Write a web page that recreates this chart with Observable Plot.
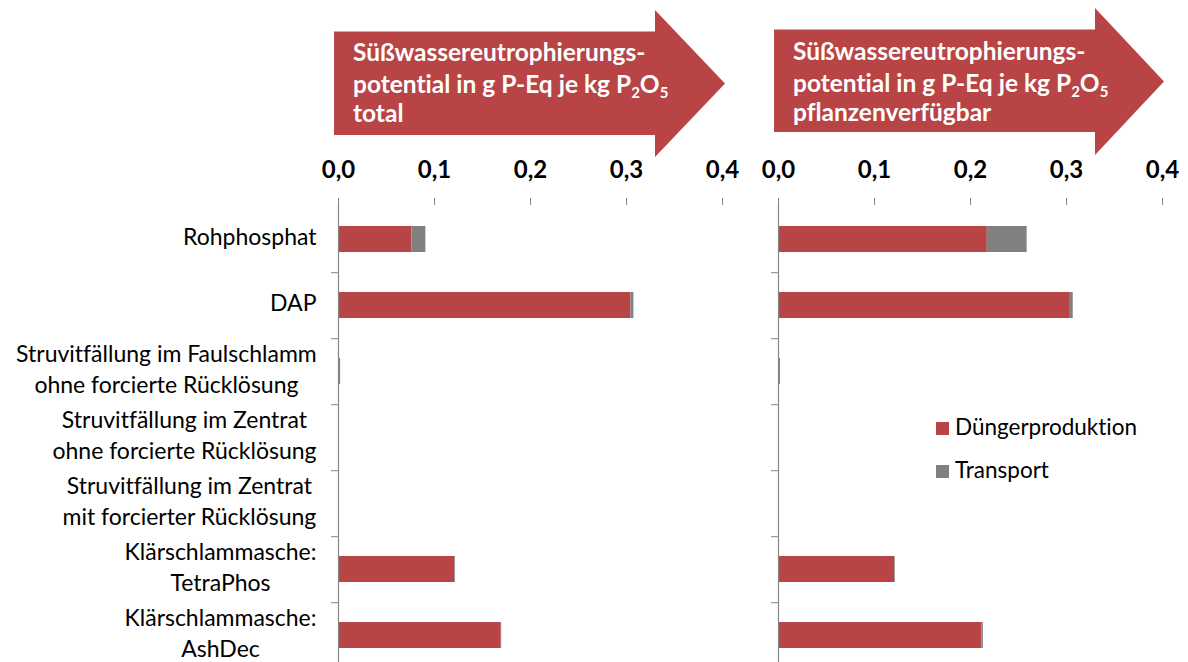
<!DOCTYPE html>
<html><head><meta charset="utf-8">
<script src="https://cdn.jsdelivr.net/npm/d3@7"></script>
<script src="https://cdn.jsdelivr.net/npm/@observablehq/plot@0.6"></script>
<style>
html,body{margin:0;padding:0;background:#fff;}
#wrap{position:relative;width:1188px;height:662px;overflow:hidden;font-family:Lato,sans-serif;}
#wrap svg.overlay{position:absolute;left:0;top:0;pointer-events:none;}
#wrap text, #wrap .lg{font-variant-ligatures:none;}
.lg{position:absolute;font-family:Lato,sans-serif;font-size:22.5px;color:#000;line-height:1;white-space:nowrap;}
.sw{position:absolute;width:13px;height:13px;}
</style></head><body><div id="wrap"></div>
<script>
const categories = [
  "Rohphosphat",
  "DAP",
  "Struvitfällung im Faulschlamm\nohne forcierte Rücklösung",
  "Struvitfällung im Zentrat\nohne forcierte Rücklösung",
  "Struvitfällung im Zentrat\nmit forcierter Rücklösung",
  "Klärschlammasche:\nTetraPhos",
  "Klärschlammasche:\nAshDec"
];
const panels = ["total", "pflanzenverfügbar"];
const series = ["Düngerproduktion", "Transport"];
const duengerTotal   = [0.0765, 0.3046, 0, 0, 0, 0.1212, 0.1695];
const transportTotal = [0.0145, 0.0031, 0.0022, 0, 0, 0.0007, 0.0005];
const duengerPfl     = [0.2175, 0.3040, 0, 0, 0, 0.1210, 0.2120];
const transportPfl   = [0.0415, 0.0030, 0.0020, 0, 0, 0.0007, 0.0014];
const xTicks = [0, 0.1, 0.2, 0.3, 0.4];
const colors = ["#B94446", "#808080"];
const arrowTitle1 = "Süßwassereutrophierungs-";
const arrowTitle2 = "potential in g P-Eq je kg P";

const rows = [];
const valuesByPanel = {
  "total": [duengerTotal, transportTotal],
  "pflanzenverfügbar": [duengerPfl, transportPfl]
};
for (const p of panels) {
  categories.forEach((c, i) => {
    series.forEach((s, j) => {
      rows.push({panel: p, category: c, series: s, value: valuesByPanel[p][j][i]});
    });
  });
}

const W = 1188, H = 662;
const axisGrey = "#868686";
const step = (668.8 - 204) / categories.length;
const labelFont = 23;
const labelGap = 22;

// measure the widest line of each label to centre lines within a right-aligned block
const ctx = document.createElement("canvas").getContext("2d");
ctx.font = `${labelFont}px Lato`;
const blockWidth = c => Math.max(...c.split("\n").map(l => ctx.measureText(l).width));

const labelMarks = categories.map(c => Plot.text([c], {
  y: d => d, fx: () => panels[0], text: d => d, frameAnchor: "left",
  textAnchor: "middle", dx: -(labelGap + blockWidth(c) / 2), dy: -4,
  fontSize: labelFont, lineHeight: 1.33, fill: "#000"
}));

const plot = Plot.plot({
  width: W, height: H,
  marginTop: 204, marginBottom: 0, marginLeft: 338, marginRight: 26,
  style: {fontFamily: "Lato, sans-serif", fontSize: "20px", color: "#000", background: "transparent"},
  fx: {domain: panels, paddingInner: 56 / 440, paddingOuter: 0, axis: null, label: null},
  x: {domain: [0, 0.4]},
  y: {domain: categories, range: [204, 668.8], paddingInner: 0.61, paddingOuter: 0.305, axis: null},
  color: {domain: series, range: colors},
  marks: [
    Plot.barX(rows, {x: "value", y: "category", fill: "series", fx: "panel"}),
    Plot.ruleX([0], {stroke: axisGrey, strokeWidth: 1.2}),
    Plot.axisX({anchor: "top", ticks: xTicks, tickFormat: d => d.toFixed(1).replace(".", ","),
      tickSize: 7, tickPadding: 20, fontSize: 24, fontWeight: "bold", stroke: axisGrey,
      line: true, label: null}),
    Plot.axisY({anchor: "left", facetAnchor: null, tickSize: 7, tickFormat: () => "", dy: step / 2,
      stroke: axisGrey, label: null}),
    ...labelMarks
  ]
});
const wrap = document.getElementById("wrap");
wrap.appendChild(plot);

// arrows (header decoration)
const svg = d3.select(wrap).append("svg").attr("class", "overlay")
  .attr("width", W).attr("height", H);
const arrows = [
  {x0: 334, x1: 655, tip: 725, yTop: 31.5, yBot: 135, hTop: 10, hBot: 157, line3: "total", ty: 61},
  {x0: 774, x1: 1095, tip: 1164, yTop: 29.5, yBot: 132, hTop: 8, hBot: 155, line3: "pflanzenverfügbar", ty: 59.5}
];
for (const a of arrows) {
  const mid = (a.hTop + a.hBot) / 2;
  svg.append("path")
    .attr("d", `M${a.x0},${a.yTop}H${a.x1}V${a.hTop}L${a.tip},${mid}L${a.x1},${a.hBot}V${a.yBot}H${a.x0}Z`)
    .attr("fill", colors[0]);
  const t = svg.append("text").attr("fill", "#fff").attr("font-family", "Lato, sans-serif")
    .attr("font-weight", "bold").attr("font-size", 24.5);
  const tx = a.x0 + 19;
  t.append("tspan").attr("x", tx).attr("y", a.ty).text(arrowTitle1);
  t.append("tspan").attr("x", tx).attr("y", a.ty + 32).text(arrowTitle2);
  t.append("tspan").attr("dy", 5).attr("font-size", 15).text("2");
  t.append("tspan").attr("dy", -5).text("O");
  t.append("tspan").attr("dy", 5).attr("font-size", 15).text("5");
  t.append("tspan").attr("x", tx).attr("y", a.ty + 61).text(a.line3);
}

// legend
const lgPos = [{y: 421.5}, {y: 465}];
series.forEach((s, i) => {
  const sw = document.createElement("div");
  sw.className = "sw";
  sw.style.left = "936px"; sw.style.top = lgPos[i].y + "px"; sw.style.background = colors[i];
  wrap.appendChild(sw);
  const lb = document.createElement("div");
  lb.className = "lg";
  lb.style.left = "955px"; lb.style.top = (lgPos[i].y - 6) + "px";
  lb.textContent = s;
  wrap.appendChild(lb);
});
</script></body></html>
